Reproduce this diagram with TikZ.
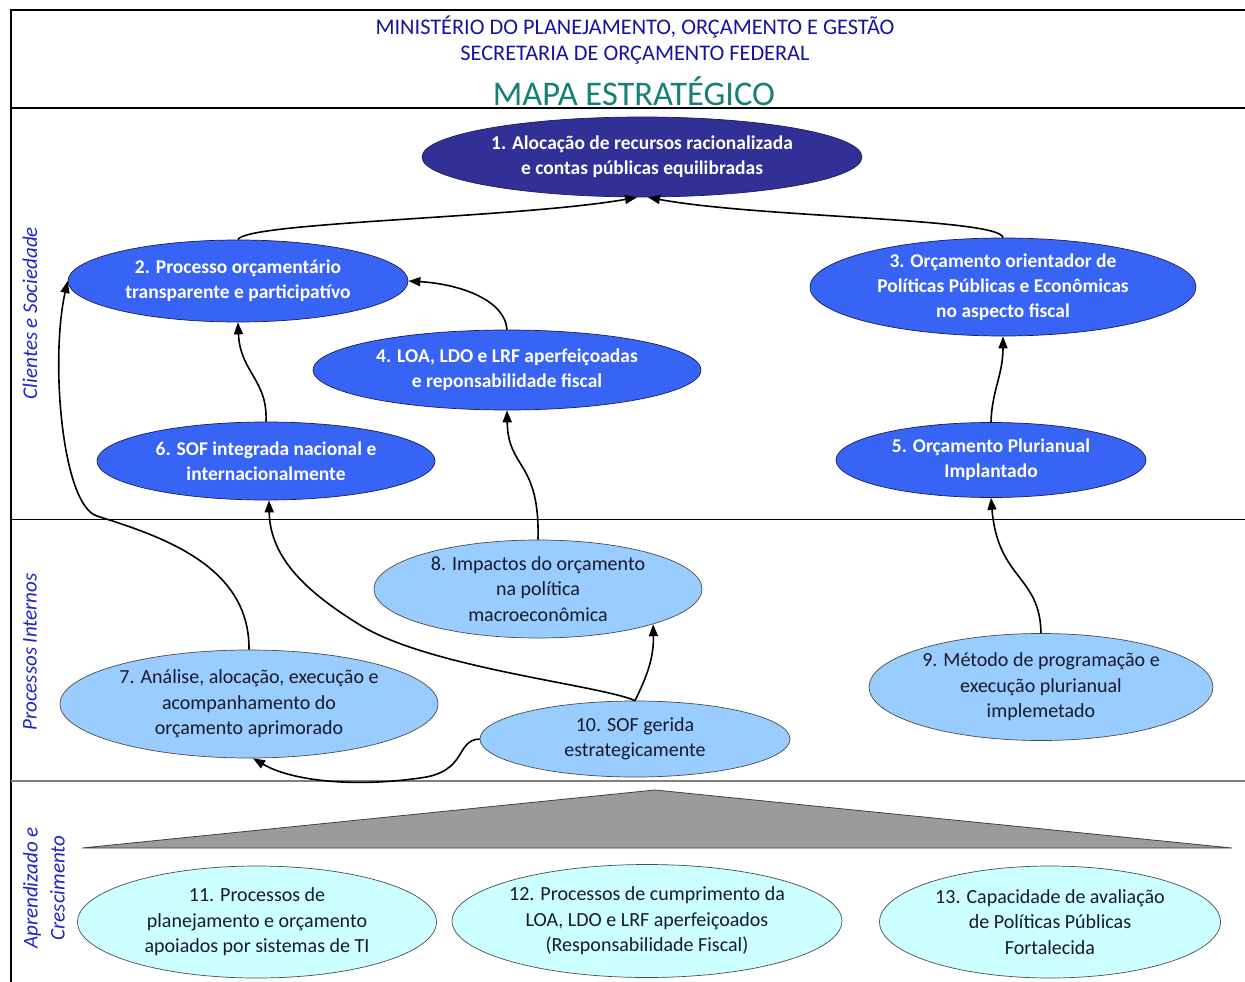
\documentclass[tikz,border=0pt]{standalone}
\usepackage{fontspec}
\setmainfont{Carlito}
\usetikzlibrary{shapes.geometric,arrows.meta}
\definecolor{hdrblue}{RGB}{20,20,160}
\definecolor{tealt}{RGB}{22,128,118}
\definecolor{sideblue}{RGB}{35,35,200}
\definecolor{darkfill}{RGB}{48,48,150}
\definecolor{midfill}{RGB}{55,100,245}
\definecolor{lightfill}{RGB}{153,204,255}
\definecolor{palefill}{RGB}{204,255,255}
\definecolor{txtdark}{RGB}{25,25,45}
\definecolor{trigray}{RGB}{155,155,155}
\begin{document}
\begin{tikzpicture}[x=1pt,y=-1pt,
  ell/.style={ellipse, inner sep=0pt, align=center},
  topell/.style={ell, draw=darkfill!60!black, line width=0.7pt, text=white, font=\fontsize{19.5}{25}\selectfont\bfseries},
  lowell/.style={ell, draw=black!70, line width=0.7pt, text=txtdark, font=\fontsize{20}{25.5}\selectfont},
  sidelbl/.style={rotate=90, text=sideblue, font=\fontsize{21}{27}\selectfont\itshape, align=center},
  conn/.style={-{Triangle[length=12pt,width=9pt]}, line width=1.6pt, black}
]
\useasboundingbox (0,0) rectangle (1245,982);
\fill[white] (0,0) rectangle (1245,982);

% frame
\draw[line width=1.2pt] (11,982) -- (11,10) -- (1245,10);
\draw[line width=1.2pt] (11,108) -- (1245,108);
\draw[line width=1pt] (11,519) -- (1245,519);
\draw[line width=2.6pt, black!50] (11,781) -- (1245,781);

% header
\node[text=hdrblue, font=\fontsize{22.3}{26}\selectfont] (h1) at (635,27) {MINISTÉRIO DO PLANEJAMENTO, ORÇAMENTO E GESTÃO};
\node[text=hdrblue, font=\fontsize{22.3}{26}\selectfont] (h2) at (635,55) {SECRETARIA DE ORÇAMENTO FEDERAL};
\node[text=tealt, font=\fontsize{34.5}{40}\selectfont] (h3) at (634,91) {MAPA ESTRATÉGICO};

% side labels
\node[sidelbl] (s1) at (30,313) {Clientes e Sociedade};
\node[sidelbl] (s2) at (30,652) {Processos Internos};
\node[sidelbl] (s3) at (44,888) {Aprendizado e\\Crescimento};

% triangle
\draw[fill=trigray, draw=black!75, line width=0.8pt] (82,848) -- (655,790) -- (1232,848) -- cycle;

% top ellipses
\node[topell, fill=darkfill, minimum width=440pt, minimum height=80pt] (e1) at (642,157)
  {1. Alocação de recursos racionalizada\\e contas públicas equilibradas};
\node[topell, fill=midfill, minimum width=340pt, minimum height=82pt] (e2) at (238,281)
  {2. Processo orçamentário\\transparente e participatívo};
\node[topell, fill=midfill, minimum width=386pt, minimum height=98pt] (e3) at (1003,287)
  {3. Orçamento orientador de\\Políticas Públicas e Econômicas\\no aspecto fiscal};
\node[topell, fill=midfill, minimum width=388pt, minimum height=80pt] (e4) at (507,370)
  {4. LOA, LDO e LRF aperfeiçoadas\\e reponsabilidade fiscal};
\node[topell, fill=midfill, minimum width=310pt, minimum height=75pt] (e5) at (991,460)
  {5. Orçamento Plurianual\\Implantado};
\node[topell, fill=midfill, minimum width=338pt, minimum height=78pt] (e6) at (266,461)
  {6. SOF integrada nacional e\\internacionalmente};

% middle ellipses
\node[lowell, fill=lightfill, minimum width=378pt, minimum height=108pt] (e7) at (249,704)
  {7. Análise, alocação, execução e\\acompanhamento do\\orçamento aprimorado};
\node[lowell, fill=lightfill, minimum width=328pt, minimum height=98pt] (e8) at (538,589)
  {8. Impactos do orçamento\\na política\\macroeconômica};
\node[lowell, fill=lightfill, minimum width=344pt, minimum height=107pt] (e9) at (1041,687)
  {9. Método de programação e\\execução plurianual\\implemetado};
\node[lowell, fill=lightfill, minimum width=310pt, minimum height=76pt] (e10) at (635,739)
  {10. SOF gerida\\estrategicamente};

% bottom ellipses
\node[lowell, fill=palefill, minimum width=359pt, minimum height=112pt] (e11) at (257,922)
  {11. Processos de\\planejamento e orçamento\\apoiados por sistemas de TI};
\node[lowell, fill=palefill, minimum width=385pt, minimum height=113pt] (e12) at (647,921)
  {12. Processos de cumprimento da\\LOA, LDO e LRF aperfeiçoados\\(Responsabilidade Fiscal)};
\node[lowell, fill=palefill, minimum width=341pt, minimum height=112pt] (e13) at (1050,922)
  {13. Capacidade de avaliação\\de Políticas Públicas\\Fortalecida};

% via points
\coordinate (w7) at (97,516);
\coordinate (v10) at (360,625);
\coordinate (v11) at (420,778);

% connectors
\draw[conn] (e2.north) .. controls (245,222) and (520,218) .. ([xshift=-5pt]e1.south);
\draw[conn] (e3.north) .. controls (1000,218) and (760,218) .. ([xshift=6pt]e1.south);
\draw[conn] (e4.north) .. controls (505,300) and (460,284) .. (e2.east);
\draw[conn] (e6.north) .. controls (268,380) and (240,372) .. (e2.south);
\draw[conn] (e5.north) .. controls (992,390) and (1003,375) .. (e3.south);
\draw[conn] (e9.north) .. controls (1040,575) and (998,580) .. (e5.south);
\draw[conn] (e8.north) .. controls (540,460) and (508,470) .. (e4.south);
\draw[conn] (e7.north) .. controls (250,565) and (160,536) .. (w7) .. controls (62,505) and (50,360) .. (e2.west);
\draw[conn] (e10.north) .. controls (600,685) and (430,668) .. (v10) .. controls (310,594) and (270,560) .. ([xshift=3pt]e6.south);
\draw[conn] (e10.north) .. controls (645,680) and (654,660) .. (e8.-17);
\draw[conn] (e10.west) .. controls (455,740) and (468,772) .. (v11) .. controls (350,788) and (290,780) .. ([xshift=4pt]e7.south);
\end{tikzpicture}
\end{document}
